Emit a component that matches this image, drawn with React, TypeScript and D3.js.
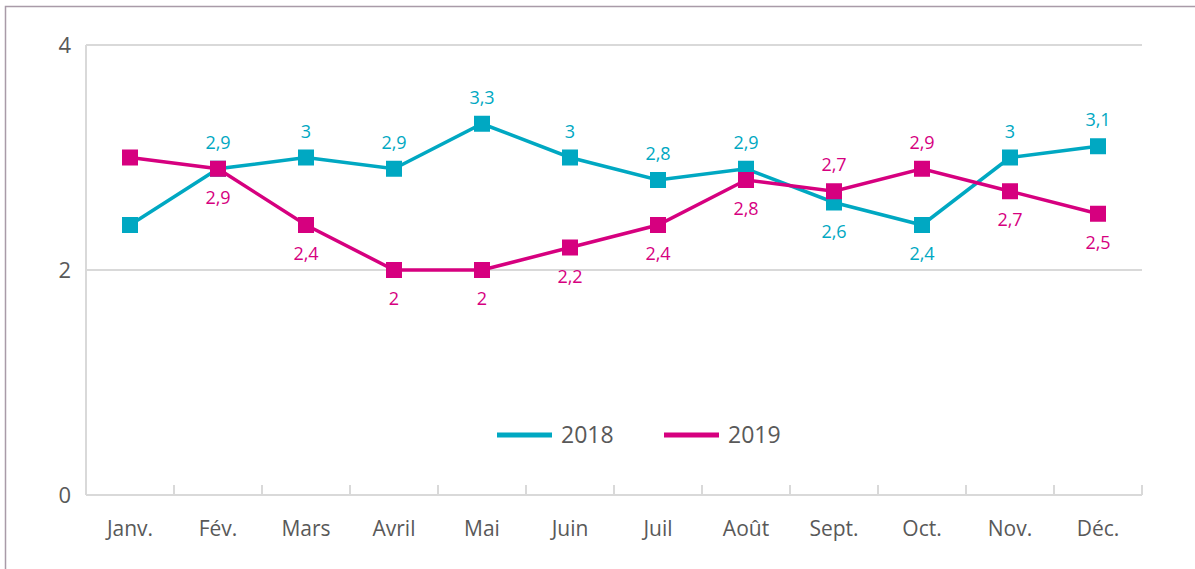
import React from "react";
import * as d3 from "d3";

const months = ["Janv.", "Fév.", "Mars", "Avril", "Mai", "Juin", "Juil", "Août", "Sept.", "Oct.", "Nov.", "Déc."];
const s2018 = [2.4, 2.9, 3, 2.9, 3.3, 3, 2.8, 2.9, 2.6, 2.4, 3, 3.1];
const s2019 = [3.0, 2.9, 2.4, 2, 2, 2.2, 2.4, 2.8, 2.7, 2.9, 2.7, 2.5];
const yTicks = [0, 2, 4];
const seriesNames = ["2018", "2019"];
const colors = ["#00A8C2", "#D6007F"];

export default function App() {
  const W = 1195, H = 569;
  const left = 86, right = 1142, top = 45, bottom = 495;
  const x = d3.scaleBand<string>().domain(months).range([left, right]);
  const y = d3.scaleLinear().domain([0, 4]).range([bottom, top]);
  const cx = (m: string) => (x(m) as number) + x.bandwidth() / 2;
  const line = d3.line<number>().x((_, i) => cx(months[i])).y((v) => y(v));
  const series = [s2018, s2019];
  const fmt = (v: number) => String(v).replace(".", ",");
  const font = "'Open Sans', sans-serif";

  return (
    <svg width={W} height={H} style={{ position: "absolute", left: 0, top: 0 }}>
      <rect x={5.5} y={6.5} width={W + 10} height={H + 10} fill="#fff" stroke="#A99BA8" strokeWidth={1.5} />
      {yTicks.filter((t) => t > 0).map((t) => (
        <line key={t} x1={left} x2={right} y1={y(t)} y2={y(t)} stroke="#D9D9D9" strokeWidth={2} />
      ))}
      <line x1={left} x2={left} y1={top} y2={bottom} stroke="#D9D9D9" strokeWidth={2} />
      <line x1={left} x2={right} y1={bottom} y2={bottom} stroke="#D9D9D9" strokeWidth={2} />
      {months.map((m, i) => (
        <line key={"t" + i} x1={x(m) as number} x2={x(m) as number} y1={bottom} y2={bottom - 10} stroke="#D9D9D9" strokeWidth={2} />
      ))}
      <line x1={right} x2={right} y1={bottom} y2={bottom - 10} stroke="#D9D9D9" strokeWidth={2} />
      {yTicks.map((t) => (
        <text key={t} x={71} y={y(t) + 8} textAnchor="end" fontSize={22} fill="#595959" fontFamily={font}>{t}</text>
      ))}
      {months.map((m) => (
        <text key={m} x={cx(m)} y={536} textAnchor="middle" fontSize={21} fill="#595959" fontFamily={font}>{m}</text>
      ))}
      {series.map((s, si) => (
        <g key={si}>
          <path d={line(s) as string} fill="none" stroke={colors[si]} strokeWidth={3.5} />
          {s.map((v, i) => (
            <rect key={i} x={cx(months[i]) - 8} y={y(v) - 8} width={16} height={16} fill={colors[si]} />
          ))}
        </g>
      ))}
      {series.map((s, si) =>
        s.map((v, i) => {
          if (i === 0) return null;
          const other = series[1 - si][i];
          const above = v > other || (v === other && si === 0);
          return (
            <text key={si + "-" + i} x={cx(months[i])} y={above ? y(v) - 20 : y(v) + 35} textAnchor="middle" fontSize={18} fill={colors[si]} fontFamily={font}>{fmt(v)}</text>
          );
        })
      )}
      {seriesNames.map((n, i) => (
        <g key={n}>
          <line x1={497 + i * 167} x2={552 + i * 167} y1={435} y2={435} stroke={colors[i]} strokeWidth={5} />
          <text x={561 + i * 167} y={443} fontSize={23} fill="#595959" fontFamily={font}>{n}</text>
        </g>
      ))}
    </svg>
  );
}
